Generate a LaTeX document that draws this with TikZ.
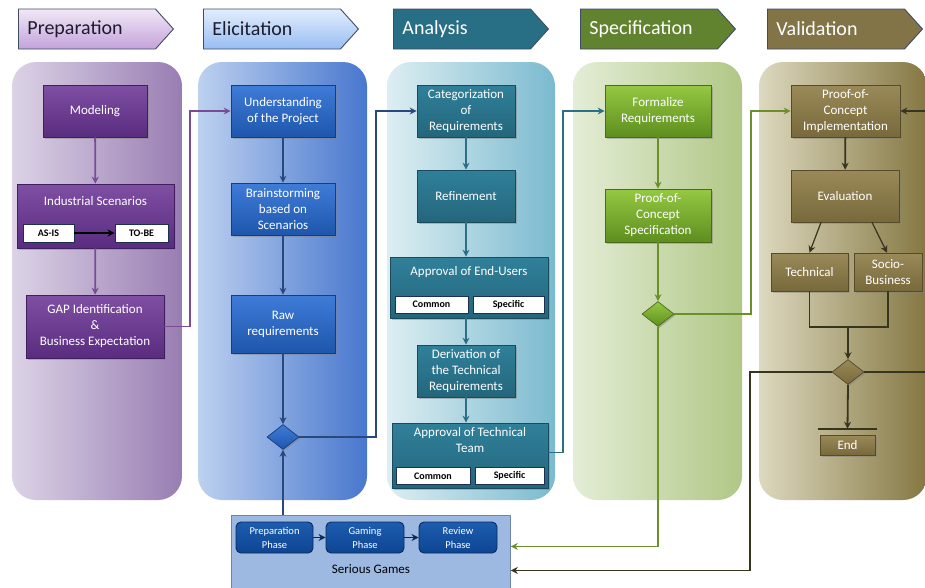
\documentclass[tikz,border=0pt]{standalone}
\usepackage{fontspec}
\setmainfont{Carlito}
\usetikzlibrary{positioning,arrows.meta,shapes.geometric,shapes.symbols,shadows}

% lane backgrounds (left -> right)
\definecolor{prepA}{HTML}{DCD3E6}
\definecolor{prepB}{HTML}{987DB2}
\definecolor{elicA}{HTML}{BDD1EF}
\definecolor{elicB}{HTML}{4877CE}
\definecolor{analA}{HTML}{DDEEF2}
\definecolor{analB}{HTML}{7BBACF}
\definecolor{specA}{HTML}{E4EDD6}
\definecolor{specB}{HTML}{B0C786}
\definecolor{valiA}{HTML}{DDD9BF}
\definecolor{valiB}{HTML}{847742}
% header arrows
\definecolor{hdrD}{HTML}{3E4C68}
\definecolor{hdrT}{HTML}{1C1C2C}
\definecolor{prepH}{HTML}{F1E8F7}
\definecolor{prepI}{HTML}{C3A2DA}
\definecolor{elicH}{HTML}{E2EDFC}
\definecolor{elicI}{HTML}{98BDF3}
\definecolor{analH}{HTML}{286E85}
\definecolor{specH}{HTML}{61822E}
\definecolor{valiH}{HTML}{827447}
% boxes (top, bottom, border)
\definecolor{purpA}{HTML}{7E4FA3}
\definecolor{purpB}{HTML}{5A2C7F}
\definecolor{purpD}{HTML}{40205C}
\definecolor{blueA}{HTML}{3F7CD8}
\definecolor{blueB}{HTML}{1E56AC}
\definecolor{blueD}{HTML}{173E7A}
\definecolor{tealA}{HTML}{30809A}
\definecolor{tealB}{HTML}{24667C}
\definecolor{tealD}{HTML}{1A4A5C}
\definecolor{grenA}{HTML}{95C842}
\definecolor{grenB}{HTML}{5E8E1F}
\definecolor{grenD}{HTML}{4A6A1C}
\definecolor{khakA}{HTML}{9A8A59}
\definecolor{khakB}{HTML}{78693B}
\definecolor{khakD}{HTML}{564B2A}
\definecolor{tagD}{HTML}{1F2F4F}
\definecolor{sgF}{HTML}{9DB9E1}
\definecolor{sgD}{HTML}{6F86A8}
\definecolor{gameA}{HTML}{1D5CB0}
\definecolor{gameB}{HTML}{0E4592}
\definecolor{gameD}{HTML}{0A2A5E}
% connectors
\definecolor{plin}{HTML}{7A4C98}
\definecolor{elin}{HTML}{27497D}
\definecolor{alin}{HTML}{2B6F88}
\definecolor{slin}{HTML}{6B8F2A}
\definecolor{vlin}{HTML}{37341F}

\begin{document}
\begin{tikzpicture}[x=1pt, y=-1pt, >={Stealth[length=7pt, width=7pt]}, line width=1.8pt,
    font=\fontsize{13}{16}\selectfont,
    hdr/.style = {signal, signal to=east, signal pointer angle=96, draw=hdrD, line width=0.9pt,
                  minimum height=40pt, inner xsep=9pt, text width=119pt, align=left, anchor=west,
                  font=\fontsize{20}{22}\selectfont},
    lane/.style = {rounded corners=24pt},
    main/.style = {draw, line width=0.7pt, align=center, text=white,
                   drop shadow={shadow xshift=1.5pt, shadow yshift=-1.5pt, opacity=.45}},
    pbox/.style = {main, draw=purpD, top color=purpA, bottom color=purpB},
    ebox/.style = {main, draw=blueD, top color=blueA, bottom color=blueB},
    abox/.style = {main, draw=tealD, top color=tealA, bottom color=tealB},
    sbox/.style = {main, draw=grenD, top color=grenA, bottom color=grenB},
    vbox/.style = {main, draw=khakD, top color=khakA, bottom color=khakB},
    dia/.style = {main, diamond, inner sep=0pt, minimum width=32pt, minimum height=25pt},
    txt/.style = {text=white, align=center},
    tag/.style = {draw=tagD, line width=0.9pt, fill=white, inner sep=0pt,
                  font=\fontsize{10}{11}\selectfont\bfseries},
    game/.style = {draw=gameD, line width=0.9pt, top color=gameA, bottom color=gameB, rounded corners=5pt,
                   minimum width=77pt, minimum height=31pt, text=white, align=center,
                   font=\fontsize{10.5}{14}\selectfont},
    pl/.style = {->, draw=plin},
    el/.style = {->, draw=elin},
    al/.style = {->, draw=alin},
    sl/.style = {->, draw=slin},
    vl/.style = {->, draw=vlin},
]
\useasboundingbox (0,0) rectangle (925,587);

% swim lanes
\shade[lane, left color=prepA, right color=prepB] (12,62) rectangle (182,500);
\shade[lane, left color=elicA, right color=elicB] (198,62) rectangle (367,500);
\shade[lane, left color=analA, right color=analB] (387,62) rectangle (555,500);
\shade[lane, left color=specA, right color=specB] (573,62) rectangle (742,500);
\shade[lane, left color=valiA, right color=valiB] (759,62) rectangle (927,500);

% phase headers
\node[hdr, top color=prepH, bottom color=prepI, text=hdrT] (h1) at (18,29) {Preparation};
\node[hdr, top color=elicH, bottom color=elicI, text=hdrT] (h2) at (203,29) {Elicitation};
\node[hdr, fill=analH, text=white] (h3) at (393,29) {Analysis};
\node[hdr, fill=specH, text=white] (h4) at (580,29) {Specification};
\node[hdr, fill=valiH, text=white] (h5) at (767,29) {Validation};

% preparation
\node[pbox, minimum width=104pt, minimum height=52pt] (p1) at (95,111) {Modeling};
\node[pbox, minimum width=157pt, minimum height=64pt] (p2) at (95.5,216) {};
\node[txt] (p2t) at (95.5,201) {Industrial Scenarios};
\node[tag, minimum width=51pt, minimum height=18pt] (p2a) at (48.5,233) {AS-IS};
\node[tag, minimum width=53pt, minimum height=18pt] (p2b) at (141.5,233) {TO-BE};
\node[pbox, minimum width=138pt, minimum height=63pt] (p3) at (95,326.5) {GAP Identification\\\&\\Business Expectation};

% elicitation
\node[ebox, minimum width=104pt, minimum height=52pt] (e1) at (283,111) {Understanding\\of the Project};
\node[ebox, minimum width=104pt, minimum height=52pt] (e2) at (283,209) {Brainstorming\\based on\\Scenarios};
\node[ebox, minimum width=104pt, minimum height=58pt] (e3) at (283,324) {Raw\\requirements};
\node[dia, draw=blueD, top color=blueA, bottom color=blueB] (ed) at (283,437) {};

% analysis
\node[abox, minimum width=98pt, minimum height=52pt] (a1) at (466,111) {Categorization\\of\\Requirements};
\node[abox, minimum width=98pt, minimum height=52pt] (a2) at (466,196) {Refinement};
\node[abox, minimum width=158pt, minimum height=61pt] (a3) at (469,287.5) {};
\node[txt] (a3t) at (469,272) {Approval of End-Users};
\node[tag, minimum width=73pt, minimum height=17pt] (a3c) at (431.5,304.5) {Common};
\node[tag, minimum width=71pt, minimum height=17pt] (a3s) at (508.5,304.5) {Specific};
\node[abox, minimum width=98pt, minimum height=52pt] (a4) at (466,371) {Derivation of\\the Technical\\Requirements};
\node[abox, minimum width=156pt, minimum height=65pt] (a5) at (470,455.5) {};
\node[txt] (a5t) at (470,440) {Approval of Technical\\Team};
\node[tag, minimum width=74pt, minimum height=17pt] (a5c) at (433,476) {Common};
\node[tag, minimum width=69pt, minimum height=17pt] (a5s) at (509.5,476) {Specific};

% specification
\node[sbox, minimum width=106pt, minimum height=52pt] (s1) at (658,111) {Formalize\\Requirements};
\node[sbox, minimum width=106pt, minimum height=53pt] (s2) at (658,215.5) {Proof-of-\\Concept\\Specification};
\node[dia, draw=grenD, top color=grenA, bottom color=grenB] (sd) at (658,314) {};

% validation
\node[vbox, minimum width=109pt, minimum height=52pt] (v1) at (845.5,111) {Proof-of-\\Concept\\Implementation};
\node[vbox, minimum width=108pt, minimum height=52pt] (v2) at (845,196) {Evaluation};
\node[vbox, minimum width=77pt, minimum height=38pt] (v3) at (809.5,272) {Technical};
\node[vbox, minimum width=68pt, minimum height=38pt] (v4) at (888,272) {Socio-\\Business};
\node[dia, draw=khakD, top color=khakA, bottom color=khakB] (vd) at (848,372) {};
\node[vbox, minimum width=55pt, minimum height=20pt, inner sep=0pt] (v5) at (847.5,445) {End};
\coordinate (vj) at (848,327);
\coordinate (bar) at ([yshift=6pt]v5.north);

% serious games
\node[draw=sgD, fill=sgF, line width=0.8pt, minimum width=279pt, minimum height=85pt,
      anchor=north west, inner sep=0pt] (sg) at (231,515) {};
\node (sgt) at (371,569) {Serious Games};
\node[game] (g1) at (274.5,537.5) {Preparation\\Phase};
\node[game, minimum width=78pt] (g2) at (365,537.5) {Gaming\\Phase};
\node[game, minimum width=78pt] (g3) at (458,537.5) {Review\\Phase};

% flows inside the lanes
\draw[pl] (p1) -- (p2);
\draw[pl] (p2) -- (p3);
\draw[->, draw=black, line width=1.8pt] (p2a) -- (p2b);
\draw[el] (e1) -- (e2);
\draw[el] (e2) -- (e3);
\draw[el] (e3) -- (ed);
\draw[al] (a1) -- (a2);
\draw[al] (a2.south) -- (a2.south |- a3.north);
\draw[al] (a3.south -| a4) -- (a4);
\draw[al] (a4.south) -- (a4.south |- a5.north);
\draw[sl] (s1) -- (s2);
\draw[sl] (s2) -- (sd);
\draw[vl] (v1) -- (v2);
\draw[vl, line width=1.2pt] ([xshift=-24pt]v2.south) -- (v3.north);
\draw[vl, line width=1.2pt] ([xshift=27pt]v2.south) -- ([xshift=-1pt]v4.north);
\draw[draw=vlin] (v3.south) |- (vj) -| (v4.south);
\draw[vl] (vj) -- (vd.north);
\draw[vl] (vd.south) -- (bar);
\draw[draw=vlin] ([xshift=-2pt]bar -| v5.west) -- ([xshift=2pt]bar -| v5.east);
\draw[->, draw=gameD, line width=1.4pt] (g1) -- (g2);
\draw[->, draw=gameD, line width=1.4pt] (g2) -- (g3);

% hand-over between lanes
\draw[pl] (p3.east) -- ++(26,0) |- (e1.west);
\draw[el] (ed.east) -- ++(77,0) |- (a1.west);
\draw[el] (sg.north -| ed) -- (ed.south);
\draw[al] ([yshift=3pt]a5.east) -- ++(15,0) |- (s1.west);
\draw[sl] (sd.east) -- ++(77,0) |- (v1.west);
\draw[sl] (sd.south) |- ([yshift=11.5pt]sg.east);
\draw[vl] (vd.west) -- ++(-82,0) |- ([yshift=-12.5pt]sg.east);
\draw[vl] (vd.east) -- ++(80,0) |- (v1.east);
\end{tikzpicture}
\end{document}
